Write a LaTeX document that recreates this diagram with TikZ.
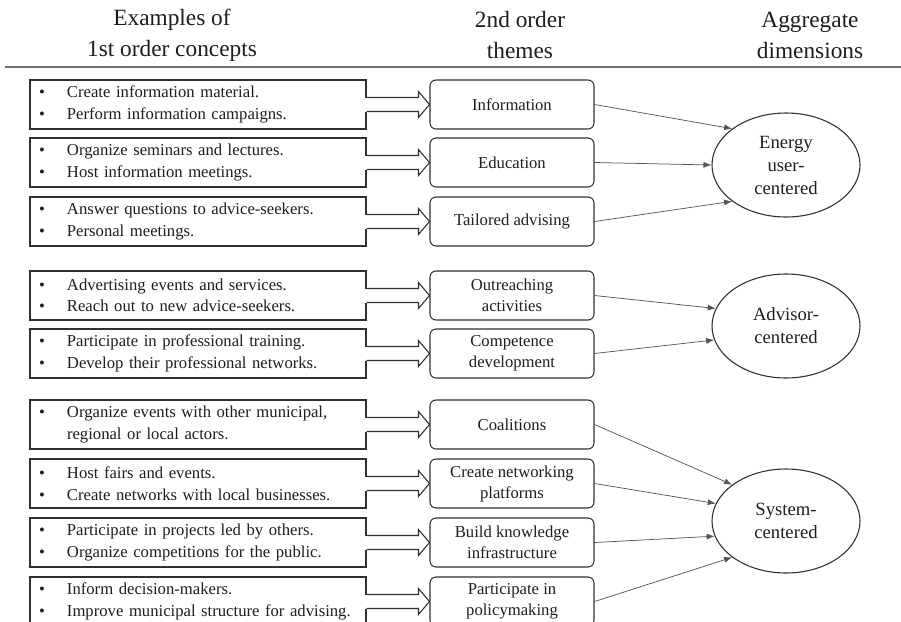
\documentclass[tikz,border=0pt]{standalone}
\usepackage{fontspec}
\setmainfont{Liberation Serif}
\usetikzlibrary{shapes.geometric,arrows.meta,calc}
\definecolor{ink}{HTML}{1E1E1E}
\definecolor{edgec}{HTML}{303030}
\definecolor{connc}{HTML}{555555}
\definecolor{rulec}{HTML}{707070}
\newcommand\bl{\makebox[21pt][l]{•}}
\newcommand\bk{\makebox[21pt][l]{}}
\newcommand\blkarrow[2]{%
  \fill[white] ($(#1.east)+(-1.5,-7)$) rectangle ($(#1.east)+(1.5,7)$);
  \draw[blk] ($(#1.east)+(0,-7)$) -- ($(#2.west)+(-11,-7)$) -- ($(#2.west)+(-11,-13)$)
    -- (#2.west) -- ($(#2.west)+(-11,13)$) -- ($(#2.west)+(-11,7)$) -- ($(#1.east)+(0,7)$);%
}
\begin{document}
\begin{tikzpicture}[x=0.75pt,y=-0.75pt,
  lbox/.style={draw=edgec, line width=0.8pt, fill=white, rectangle, minimum height=36.75pt,
    text width=238.5pt, inner xsep=6.75pt, inner ysep=0pt, align=left,
    font=\fontsize{12.5}{16.2}\selectfont, text=ink},
  tbox/.style={draw=edgec, line width=0.8pt, fill=white, rounded corners=4.5pt, minimum width=123pt,
    minimum height=36.75pt, inner sep=0pt, align=center,
    font=\fontsize{12.5}{15.75}\selectfont, text=ink},
  ebox/.style={ellipse, draw=edgec, line width=0.8pt, minimum width=111pt, minimum height=78pt,
    inner sep=0pt, align=center, font=\fontsize{14}{17.25}\selectfont, text=ink},
  hdr/.style={align=center, font=\fontsize{17.5}{23.25}\selectfont, text=ink},
  conn/.style={draw=connc, line width=0.55pt, -{Latex[length=6pt,width=4.5pt]}},
  blk/.style={draw=edgec, line width=0.8pt, line join=miter}]
\useasboundingbox (0,0) rectangle (901,622);
\clip (0,0) rectangle (901,622);
\fill[white] (0,0) rectangle (901,622);

% headers
\node[hdr] (h1) at (172,35) {Examples of\\1st order concepts};
\node[hdr] (h2) at (520,35) {2nd order\\themes};
\node[hdr] (h3) at (810,35) {Aggregate\\dimensions};
\coordinate (rl) at (5,67);
\coordinate (rr) at (901,67);
\draw[rulec, line width=1.4pt] (rl) -- (rr);

% left boxes
\node[lbox] (L1) at (198,104.5) {\bl Create information material.\\\bl Perform information campaigns.};
\node[lbox] (L2) at (198,162.5) {\bl Organize seminars and lectures.\\\bl Host information meetings.};
\node[lbox] (L3) at (198,221.5) {\bl Answer questions to advice-seekers.\\\bl Personal meetings.};
\node[lbox] (L4) at (198,295.5) {\bl Advertising events and services.\\\bl Reach out to new advice-seekers.};
\node[lbox] (L5) at (198,353.5) {\bl Participate in professional training.\\\bl Develop their professional networks.};
\node[lbox] (L6) at (198,424.5) {\bl Organize events with other municipal,\\\bk regional or local actors.};
\node[lbox] (L7) at (198,483.5) {\bl Host fairs and events.\\\bl Create networks with local businesses.};
\node[lbox] (L8) at (198,542.5) {\bl Participate in projects led by others.\\\bl Organize competitions for the public.};
\node[lbox] (L9) at (198,601.5) {\bl Inform decision-makers.\\\bl Improve municipal structure for advising.};

% themes
\node[tbox] (T1) at (512,104.5) {Information};
\node[tbox] (T2) at (512,162.5) {Education};
\node[tbox] (T3) at (512,221.5) {Tailored advising};
\node[tbox] (T4) at (512,295.5) {Outreaching\\activities};
\node[tbox] (T5) at (512,353.5) {Competence\\development};
\node[tbox] (T6) at (512,424.5) {Coalitions};
\node[tbox] (T7) at (512,483.5) {Create networking\\platforms};
\node[tbox] (T8) at (512,542.5) {Build knowledge\\infrastructure};
\node[tbox] (T9) at (512,601.5) {Participate in\\policymaking};

% block arrows
\blkarrow{L1}{T1}
\blkarrow{L2}{T2}
\blkarrow{L3}{T3}
\blkarrow{L4}{T4}
\blkarrow{L5}{T5}
\blkarrow{L6}{T6}
\blkarrow{L7}{T7}
\blkarrow{L8}{T8}
\blkarrow{L9}{T9}

% aggregate dimensions
\node[ebox] (E) at (786,165) {Energy\\user-\\centered};
\node[ebox] (A) at (786,326) {Advisor-\\centered};
\node[ebox] (S) at (786,521) {System-\\centered};

% connectors
\draw[conn] (T1.east) -- (E.146);
\draw[conn] (T2.east) -- (E.180);
\draw[conn] (T3.east) -- (E.214);
\draw[conn] (T4.east) -- (A.166);
\draw[conn] (T5.east) -- (A.191);
\draw[conn] (T6.east) -- (S.146);
\draw[conn] (T7.east) -- (S.166);
\draw[conn] (T8.east) -- (S.192);
\draw[conn] (T9.east) -- (S.214);
\end{tikzpicture}
\end{document}
